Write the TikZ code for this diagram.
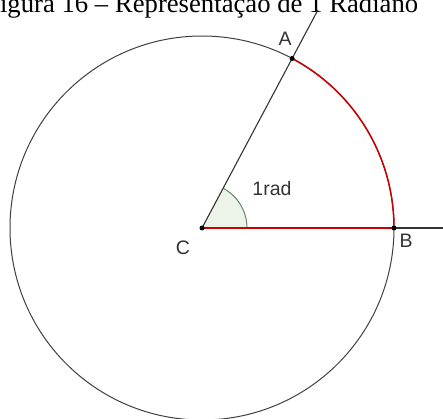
\documentclass[tikz,border=0pt]{standalone}
\usepackage{fontspec}
\setmainfont{Liberation Serif}
\newfontfamily\labelfont{Liberation Sans}
\usetikzlibrary{calc}
\definecolor{angfill}{RGB}{236,243,232}
\definecolor{angline}{RGB}{100,135,100}
\tikzset{
  ponto/.style  = {circle, fill=black, inner sep=0pt, minimum size=5pt},
  rotulo/.style = {font=\labelfont\fontsize{19.5}{19.5}\selectfont, text=black!80, inner sep=0pt},
  raio/.style   = {line width=1.1pt, black!80},
  arco/.style   = {line width=1.5pt, red!80!black},
}

\begin{document}
\begin{tikzpicture}[x=1pt,y=1pt]
  \useasboundingbox (0,0) rectangle (443,418);
  \clip (0,0) rectangle (443,418);
  % title, cut at the top
  \node[anchor=base west, inner sep=0pt, font=\fontsize{26.7}{26.7}\selectfont] (titulo) at (-15,405)
    {Figura 16 -- Representação de 1 Radiano};
  % points
  \coordinate (C) at (202,190);
  \coordinate (B) at ($(C)+(0:192)$);
  \coordinate (A) at ($(C)+(62:192)$);
  \coordinate (fimA) at ($(C)+(62:247)$);
  \coordinate (fimB) at (443,190);
  % angle
  \fill[angfill] (C) -- ++(0:45) arc (0:62:45) -- cycle;
  \draw[angline, line width=1pt] ($(C)+(0:45)$) arc (0:62:45);
  % circle
  \draw[black!75, line width=1pt] (C) circle (192);
  % rays
  \draw[raio] (C) -- (fimA);
  \draw[raio] (B) -- (fimB);
  \draw[arco] (C) -- (B);
  \draw[arco] (B) arc (0:62:192);
  % dots
  \node[ponto] (pC) at (C) {};
  \node[ponto] (pA) at (A) {};
  \node[ponto] (pB) at (B) {};
  % labels
  \node[rotulo] (lA) at (285,379) {A};
  \node[rotulo] (lB) at (406,177) {B};
  \node[rotulo] (lC) at (183,170) {C};
  \node[rotulo] (lrad) at (272,229) {1rad};
\end{tikzpicture}
\end{document}
